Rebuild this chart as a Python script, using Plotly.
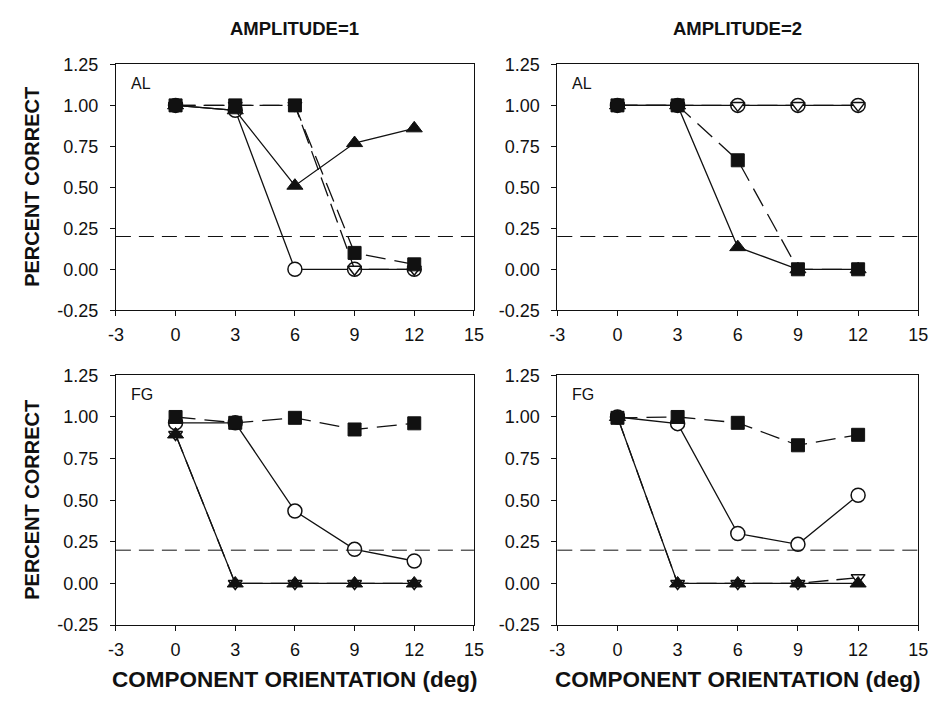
import plotly.graph_objects as go

x_vals = [0, 3, 6, 9, 12]

# AL, amplitude 1
al1_square = [1.0, 1.0, 1.0, 0.10, 0.03]
al1_circle = [1.0, 0.97, 0.0, 0.0, 0.0]
al1_tri_up = [1.0, 0.97, 0.51, 0.77, 0.86]
al1_tri_down = [1.0, 1.0, 1.0, 0.0, 0.0]
# AL, amplitude 2
al2_square = [1.0, 1.0, 0.665, 0.0, 0.0]
al2_circle = [1.0, 1.0, 1.0, 1.0, 1.0]
al2_tri_up = [1.0, 1.0, 0.135, 0.0, 0.0]
al2_tri_down = [1.0, 1.0, 1.0, 1.0, 1.0]
# FG, amplitude 1
fg1_square = [1.0, 0.965, 0.995, 0.925, 0.962]
fg1_circle = [0.965, 0.965, 0.435, 0.205, 0.135]
fg1_tri_up = [0.895, 0.0, 0.0, 0.0, 0.0]
fg1_tri_down = [0.895, 0.0, 0.0, 0.0, 0.0]
# FG, amplitude 2
fg2_square = [0.995, 1.0, 0.965, 0.83, 0.893]
fg2_circle = [1.0, 0.96, 0.30, 0.235, 0.53]
fg2_tri_up = [1.0, 0.0, 0.0, 0.0, 0.0]
fg2_tri_down = [1.0, 0.0, 0.0, 0.0, 0.035]

chance_level = 0.2
col_titles = ["AMPLITUDE=1", "AMPLITUDE=2"]
panel_labels = ["AL", "AL", "FG", "FG"]
x_ticks = [-3, 0, 3, 6, 9, 12, 15]
x_ticktext = ["-3", "0", "3", "6", "9", "12", "15"]
y_ticks = [-0.25, 0.0, 0.25, 0.5, 0.75, 1.0, 1.25]
y_ticktext = ["-0.25", "0.00", "0.25", "0.50", "0.75", "1.00", "1.25"]
x_title = "COMPONENT ORIENTATION (deg)"
y_title = "PERCENT CORRECT"

panels = [
    (al1_square, al1_circle, al1_tri_up, al1_tri_down),
    (al2_square, al2_circle, al2_tri_up, al2_tri_down),
    (fg1_square, fg1_circle, fg1_tri_up, fg1_tri_down),
    (fg2_square, fg2_circle, fg2_tri_up, fg2_tri_down),
]

W, H = 942, 707
xdom = [(110 / W, 475 / W), (560 / W, 928 / W)]
ydom = [(1 - 309 / H, 1 - 56 / H), (1 - 633 / H, 1 - 376 / H)]

FONT = "Liberation Sans, Arial, sans-serif"
fig = go.Figure()
BLACK = "#111"
LW = 1.3

for i, (sq, ci, tu, td) in enumerate(panels):
    n = i + 1
    xa = "x" if n == 1 else f"x{n}"
    ya = "y" if n == 1 else f"y{n}"
    common = dict(x=x_vals, xaxis=xa, yaxis=ya, mode="lines+markers", showlegend=False)
    fig.add_trace(go.Scatter(y=ci, line=dict(color=BLACK, width=LW),
                             marker=dict(symbol="circle", size=14, color="white",
                                         line=dict(color=BLACK, width=1.5)), **common))
    fig.add_trace(go.Scatter(y=td, line=dict(color=BLACK, width=LW, dash="20px,8px"),
                             marker=dict(symbol="triangle-down", size=12, color="white",
                                         line=dict(color=BLACK, width=1.5)), **common))
    fig.add_trace(go.Scatter(y=tu, line=dict(color=BLACK, width=LW),
                             marker=dict(symbol="triangle-up", size=14, color=BLACK,
                                         line=dict(color=BLACK, width=1)), **common))
    fig.add_trace(go.Scatter(y=sq, line=dict(color=BLACK, width=LW, dash="20px,9px"),
                             marker=dict(symbol="square", size=13, color=BLACK,
                                         line=dict(color=BLACK, width=1)), **common))

    r, c = divmod(i, 2)
    axis_style = dict(showline=True, linecolor=BLACK, linewidth=1, mirror=True,
                      ticks="outside", ticklen=5, tickcolor=BLACK, showgrid=False,
                      zeroline=False, tickfont=dict(family=FONT, size=18, color=BLACK))
    xkey = "xaxis" if n == 1 else f"xaxis{n}"
    ykey = "yaxis" if n == 1 else f"yaxis{n}"
    fig.update_layout({
        xkey: dict(domain=list(xdom[c]), anchor=ya, range=[-3, 15], tickvals=x_ticks,
                   ticktext=x_ticktext, ticklabelstandoff=3, **axis_style),
        ykey: dict(domain=list(ydom[r]), anchor=xa, range=[-0.25, 1.25], tickvals=y_ticks,
                   ticktext=y_ticktext, ticklabelstandoff=8, **axis_style),
    })
    fig.add_shape(type="line", xref=f"{xa} domain", yref=ya, x0=0, x1=1,
                  y0=chance_level, y1=chance_level,
                  line=dict(color=BLACK, width=1, dash="15px,8px"))
    fig.add_annotation(text=panel_labels[i], xref="paper", yref="paper",
                       x=(xdom[c][0] * W + 13) / W, y=(ydom[r][1] * H - 20) / H,
                       xanchor="left", yanchor="middle", showarrow=False,
                       font=dict(family=FONT, size=16, color=BLACK))

for c, t in enumerate(col_titles):
    xc = (xdom[c][0] + xdom[c][1]) / 2
    fig.add_annotation(text=f"<b>{t}</b>", xref="paper", yref="paper",
                       x=xc, y=1 - 19 / H, xanchor="center", yanchor="middle",
                       showarrow=False, font=dict(family=FONT, size=18.5, color=BLACK))
    fig.add_annotation(text=f"<b>{x_title}</b>", xref="paper", yref="paper",
                       x=xc, y=1 - 689 / H, xanchor="center", yanchor="middle",
                       showarrow=False, font=dict(family=FONT, size=22.5, color=BLACK))
for r in range(2):
    fig.add_annotation(text=f"<b>{y_title}</b>", xref="paper", yref="paper",
                       x=25 / W, y=(ydom[r][0] + ydom[r][1]) / 2, textangle=-90,
                       xanchor="center", yanchor="middle",
                       showarrow=False, font=dict(family=FONT, size=20, color=BLACK))

fig.update_layout(width=W, height=H, margin=dict(l=0, r=0, t=0, b=0),
                  plot_bgcolor="white", paper_bgcolor="white")
fig.write_html("out.html")
